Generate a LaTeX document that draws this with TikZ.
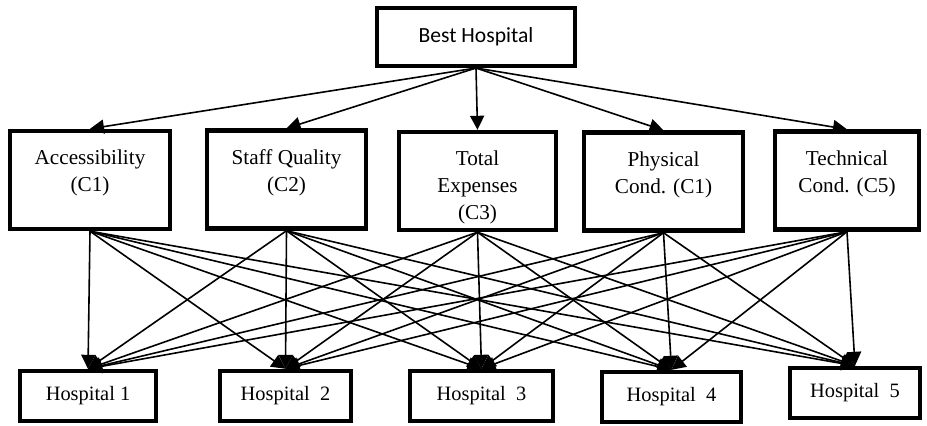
\documentclass[tikz,border=0pt]{standalone}
\usepackage{fontspec}
\setmainfont{Liberation Serif}
\newfontfamily\calibri{Carlito}
\usetikzlibrary{arrows.meta}
\newcommand{\crittext}[1]{\parbox[c][49pt][t]{72pt}{\centering\baselineskip=13.5pt\vspace*{9.4pt}#1}}
\begin{document}
\begin{tikzpicture}
[
    x=0.5pt, y=-0.5pt,
    goal/.style={draw, line width=2pt, minimum width=99pt, minimum height=29pt, font=\calibri\fontsize{10.8}{12}\selectfont},
    crit/.style={draw, line width=2.2pt, inner sep=0pt, minimum height=49pt, font=\fontsize{10.6}{13.5}\selectfont},
    hosp/.style={draw, line width=2.2pt, minimum height=25pt, font=\fontsize{10.2}{12}\selectfont},
    link/.style={line width=0.8pt, -{Triangle[length=7pt,width=7pt]}},
]
\useasboundingbox (0,0) rectangle (927,425);
\node [goal] (best) at (476,37) {Best Hospital};
\node [crit, minimum width=80pt] (c1) at (90,180) {\crittext{Accessibility\\(C1)}};
\node [crit, minimum width=79.5pt] (c2) at (286.5,179.5) {\crittext{Staff Quality\\(C2)}};
\node [crit, minimum width=78.5pt] (c3) at (477.5,181) {\crittext{Total\\Expenses\\(C3)}};
\node [crit, minimum width=79.5pt] (c4) at (663.5,181.5) {\crittext{Physical\\Cond. (C1)}};
\node [crit, minimum width=72pt] (c5) at (847,180.5) {\crittext{Technical\\Cond. (C5)}};
\node [hosp, minimum width=68pt] (h1) at (88,396) {Hospital 1};
\node [hosp, minimum width=65.5pt] (h2) at (285.5,396) {Hospital\ \ 2};
\node [hosp, minimum width=71.5pt] (h3) at (481.5,396) {Hospital\ \ 3};
\node [hosp, minimum width=69.5pt] (h4) at (671.5,397) {Hospital\ \ 4};
\node [hosp, minimum width=65pt] (h5) at (855,393) {Hospital\ \ 5};
% goal to criteria
\foreach \c in {1,...,5}
    \draw [link] (best.south) -- (c\c.north);
% criteria to alternatives
\foreach \c in {1,...,5}
    \foreach \h in {1,...,5}
        \draw [link] (c\c.south) -- (h\h.north);
\end{tikzpicture}
\end{document}
